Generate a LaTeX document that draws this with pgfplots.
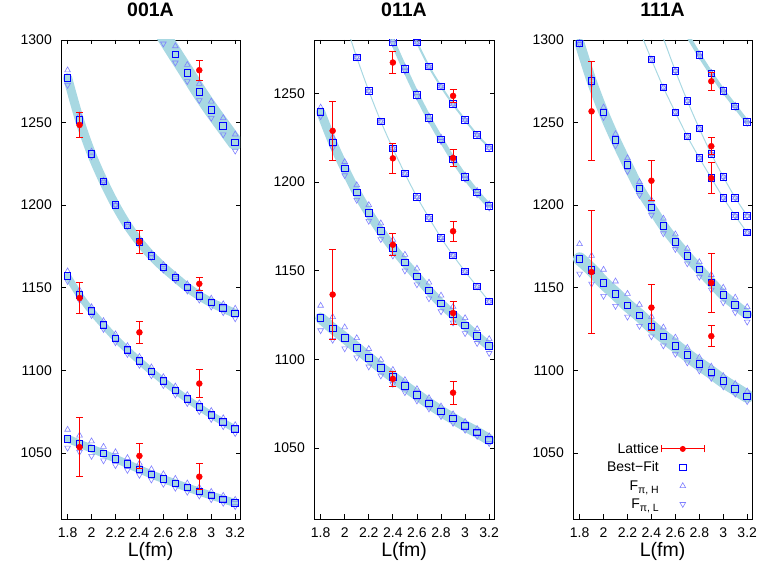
\documentclass[border=0pt]{standalone}
\usepackage{fontspec}
\setmainfont{Liberation Sans}
\usepackage{pgfplots}
\usepackage{pgfplotstable}
\pgfplotsset{compat=1.18}
\definecolor{bandc}{HTML}{A8D8E2}
\definecolor{tric}{HTML}{7F7FFF}
\definecolor{bfc}{HTML}{0000FF}
\definecolor{latc}{HTML}{FF0000}

% ---------- Panel 1 (001A) ----------
\pgfplotstableread{
x y h l
1.8 1058.6 1064.1 1053.1
1.9 1055.6 1060.6 1050.6
2.0 1052.6 1057.1 1048.1
2.1 1049.6 1053.8 1045.4
2.2 1046.5 1050.5 1042.5
2.3 1043.3 1047.0 1039.6
2.4 1040.1 1043.6 1036.6
2.5 1037.0 1040.2 1033.8
2.6 1034.2 1037.2 1031.2
2.7 1031.6 1034.4 1028.8
2.8 1029.0 1031.6 1026.4
2.9 1026.6 1029.1 1024.1
3.0 1024.2 1026.5 1021.9
3.1 1021.9 1024.1 1019.7
3.2 1019.7 1021.7 1017.7
}\tAa
\pgfplotstableread{
x y h l
1.8 1157.0 1160.0 1154.0
1.9 1145.5 1148.5 1142.5
2.0 1135.8 1138.3 1133.3
2.1 1127.4 1129.9 1124.9
2.2 1119.4 1121.9 1116.9
2.3 1112.3 1114.8 1109.8
2.4 1105.7 1108.2 1103.2
2.5 1099.4 1101.9 1096.9
2.6 1093.5 1096.0 1091.0
2.7 1087.8 1090.3 1085.3
2.8 1082.6 1085.1 1080.1
2.9 1077.7 1080.2 1075.2
3.0 1073.0 1075.5 1070.5
3.1 1068.6 1071.1 1066.1
3.2 1064.4 1066.9 1061.9
}\tAb
\pgfplotstableread{
x y h l
1.8 1277.2 1281.7 1272.7
1.9 1251.5 1254.5 1248.5
2.0 1231.0 1232.5 1229.5
2.1 1214.4 1214.9 1213.9
2.2 1200.0 1200.0 1200.0
2.3 1187.8 1188.3 1187.3
2.4 1177.8 1178.8 1176.8
2.5 1169.4 1170.4 1168.4
2.6 1162.4 1163.9 1160.9
2.7 1156.2 1157.7 1154.7
2.8 1150.2 1152.2 1148.2
2.9 1145.2 1147.7 1142.7
3.0 1141.0 1143.5 1138.5
3.1 1137.6 1140.1 1135.1
3.2 1134.4 1137.4 1131.4
}\tAc
\pgfplotstableread{
x y h l
2.5 1314.5 1319.5 1309.5
2.6 1302.8 1307.8 1297.8
2.7 1291.3 1296.3 1286.3
2.8 1280.0 1285.0 1275.0
2.9 1268.5 1273.5 1263.5
3.0 1257.8 1262.8 1252.8
3.1 1247.8 1252.8 1242.8
3.2 1237.9 1242.9 1232.9
}\tAd
\pgfplotstableread{
x y e
1.9 1053.5 18.0
2.4 1048.2 7.6
2.9 1035.6 7.8
1.9 1143.8 9.4
2.4 1123.0 6.6
2.9 1092.0 8.6
1.9 1248.6 7.6
2.4 1177.8 7.0
2.9 1152.4 3.8
2.9 1281.7 6.0
}\tAlat

% ---------- Panel 2 (011A) ----------
\pgfplotstableread{
x y h l
1.8 1123.3 1130.3 1116.3
1.9 1117.4 1123.9 1110.9
2.0 1112.1 1118.1 1106.1
2.1 1106.5 1112.0 1101.0
2.2 1100.9 1105.9 1095.9
2.3 1095.3 1099.8 1090.8
2.4 1090.1 1094.1 1086.1
2.5 1084.9 1088.4 1081.4
2.6 1080.0 1083.3 1076.7
2.7 1075.2 1078.2 1072.2
2.8 1070.7 1073.5 1067.9
2.9 1066.6 1069.1 1064.1
3.0 1062.5 1064.8 1060.2
3.1 1058.8 1060.8 1056.8
3.2 1054.7 1056.7 1052.7
}\tBa
\pgfplotstableread{
x y h l
1.8 1239.5 1242.0 1237.0
1.9 1222.2 1225.2 1219.2
2.0 1207.5 1211.3 1203.7
2.1 1194.0 1198.2 1189.8
2.2 1182.5 1187.0 1178.0
2.3 1172.2 1176.7 1167.7
2.4 1162.9 1167.4 1158.4
2.5 1154.5 1159.0 1150.0
2.6 1146.7 1151.2 1142.2
2.7 1138.8 1143.3 1134.3
2.8 1131.5 1136.0 1127.0
2.9 1125.2 1129.7 1120.7
3.0 1119.0 1123.3 1114.7
3.1 1113.1 1117.1 1109.1
3.2 1107.5 1111.5 1103.5
}\tBb
\pgfplotstableread{
x y h l
1.9 1313.0 1313.0 1313.0
2.0 1291.0 1291.0 1291.0
2.1 1270.2 1270.2 1270.2
2.2 1251.3 1251.3 1251.3
2.3 1234.1 1234.1 1234.1
2.4 1218.8 1218.8 1218.8
2.5 1204.7 1204.7 1204.7
2.6 1191.5 1191.5 1191.5
2.7 1179.8 1179.8 1179.8
2.8 1168.5 1168.5 1168.5
2.9 1158.6 1158.6 1158.6
3.0 1149.5 1149.5 1149.5
3.1 1141.0 1141.0 1141.0
3.2 1132.6 1132.6 1132.6
}\tBc
\pgfplotstableread{
x y h l
2.3 1296.0 1297.0 1295.0
2.4 1279.0 1280.0 1278.0
2.5 1263.6 1264.6 1262.6
2.6 1249.1 1250.1 1248.1
2.7 1235.9 1236.9 1234.9
2.8 1224.0 1225.0 1223.0
2.9 1212.7 1213.7 1211.7
3.0 1202.7 1203.7 1201.7
3.1 1194.0 1195.0 1193.0
3.2 1186.5 1187.5 1185.5
}\tBd
\pgfplotstableread{
x y h l
2.5 1293.0 1293.0 1293.0
2.6 1278.6 1278.6 1278.6
2.7 1265.0 1265.0 1265.0
2.8 1253.8 1253.8 1253.8
2.9 1243.8 1243.8 1243.8
3.0 1234.9 1234.9 1234.9
3.1 1226.5 1226.5 1226.5
3.2 1219.3 1219.3 1219.3
}\tBe
\pgfplotstableread{
x y e
1.9 1136.5 25.3
2.4 1089.0 4.2
2.9 1081.2 6.4
1.9 1228.8 16.5
2.4 1164.6 6.2
2.9 1126.1 6.7
2.4 1213.3 8.5
2.9 1172.2 5.7
2.4 1267.3 6.3
2.9 1213.5 4.7
2.9 1248.5 3.8
}\tBlat

% ---------- Panel 3 (111A) ----------
\pgfplotstableread{
x y h l
1.8 1167.5 1176.5 1158.5
1.9 1160.9 1169.4 1152.4
2.0 1153.0 1161.0 1145.0
2.1 1146.4 1153.9 1138.9
2.2 1139.4 1146.4 1132.4
2.3 1133.3 1139.8 1126.8
2.4 1126.5 1132.5 1120.5
2.5 1120.5 1126.0 1115.0
2.6 1114.9 1119.9 1109.9
2.7 1109.2 1113.7 1104.7
2.8 1103.8 1107.8 1099.8
2.9 1098.8 1102.3 1095.3
3.0 1093.4 1096.6 1090.2
3.1 1088.8 1091.8 1085.8
3.2 1084.3 1087.3 1081.3
}\tCa
\pgfplotstableread{
x y h l
1.8 1298.0 1298.5 1297.5
1.9 1275.3 1277.3 1273.3
2.0 1256.2 1259.2 1253.2
2.1 1239.6 1243.1 1236.1
2.2 1224.5 1228.5 1220.5
2.3 1210.1 1214.1 1206.1
2.4 1198.6 1203.1 1194.1
2.5 1187.4 1191.9 1182.9
2.6 1177.9 1182.4 1173.4
2.7 1169.2 1173.7 1164.7
2.8 1161.1 1165.6 1156.6
2.9 1153.3 1157.8 1148.8
3.0 1145.6 1150.1 1141.1
3.1 1139.6 1144.1 1135.1
3.2 1133.9 1138.4 1129.4
}\tCb
\pgfplotstableread{
x y h l
2.3 1306.0 1306.0 1306.0
2.4 1288.2 1288.2 1288.2
2.5 1271.2 1271.2 1271.2
2.6 1256.2 1256.2 1256.2
2.7 1241.6 1241.6 1241.6
2.8 1228.6 1228.6 1228.6
2.9 1216.4 1216.4 1216.4
3.0 1204.5 1204.5 1204.5
3.1 1193.5 1193.5 1193.5
3.2 1183.4 1183.4 1183.4
}\tCc
\pgfplotstableread{
x y h l
2.5 1301.0 1301.0 1301.0
2.6 1281.3 1281.3 1281.3
2.7 1263.1 1263.1 1263.1
2.8 1246.4 1246.4 1246.4
2.9 1231.0 1231.0 1231.0
3.0 1217.2 1217.2 1217.2
3.1 1204.5 1204.5 1204.5
3.2 1193.5 1193.5 1193.5
}\tCd
\pgfplotstableread{
x y h l
2.7 1303.0 1303.5 1302.5
2.8 1290.9 1291.4 1290.4
2.9 1279.7 1280.2 1279.2
3.0 1269.2 1269.7 1268.7
3.1 1259.8 1260.3 1259.3
3.2 1250.3 1250.8 1249.8
}\tCe
\pgfplotstableread{
x y e
1.9 1159.5 37.0
2.4 1138.0 13.7
2.9 1120.7 6.3
1.9 1256.8 30.0
2.4 1214.8 12.0
2.9 1153.0 17.7
2.9 1275.0 5.5
2.9 1235.7 5.0
2.9 1216.4 9.5
}\tClat

\pgfplotsset{
  panel/.style={
    scale only axis, height=479pt, xmin=1.745, xmax=3.24, ymin=1010,
    clip marker paths=true, tick align=inside,
    axis line style={line width=0.8pt}, major tick style={line width=0.8pt, black},
    major tick length=4.5pt,
    xtick={1.8,2,2.2,2.4,2.6,2.8,3,3.2},
    /pgf/number format/assume math mode=true,
    /pgf/number format/1000 sep={},
    xticklabel style={font=\fontsize{14}{16}\selectfont, inner sep=0pt, anchor=base, yshift=-19pt},
    yticklabel style={font=\fontsize{14}{16}\selectfont, inner sep=0pt, anchor=east, xshift=-9pt},
    title style={font=\fontsize{19.5}{22}\selectfont\bfseries, at={(axis description cs:0.5,1)}, anchor=base, yshift=17pt},
    xlabel={L(fm)},
    xlabel style={font=\fontsize{19.5}{22}\selectfont, at={(axis description cs:0.5,0)}, anchor=base, yshift=-38pt},
  },
  band/.style={no markers, smooth, color=bandc, line cap=round, line join=round, forget plot},
  fH/.style={only marks, mark=triangle, mark size=3.3pt, color=tric, mark options={line width=0.6pt}, forget plot},
  fL/.style={only marks, mark=triangle, mark size=3.3pt, color=tric, mark options={rotate=180, line width=0.6pt}, forget plot},
  bf/.style={only marks, mark=square, mark size=3.3pt, color=bfc, mark options={line width=0.9pt}, forget plot},
  lat/.style={only marks, mark=*, mark size=3pt, color=latc, forget plot,
    error bars/.cd, y dir=both, y explicit,
    error bar style={line width=0.9pt, latc},
    error mark options={rotate=90, mark size=3.5pt, line width=0.9pt, latc}},
}

\newcommand{\curve}[2]{%
  \addplot[band, line width=#2] table[x index=0, y index=1] {#1};
  \addplot[fL] table[x index=0, y index=3] {#1};
  \addplot[fH] table[x index=0, y index=2] {#1};
  \addplot[bf] table[x index=0, y index=1] {#1};
}
\newcommand{\sub}[1]{\raisebox{-0.4ex}{\fontsize{10.5}{12}\selectfont #1}}

\begin{document}
\begin{tikzpicture}
\useasboundingbox (0,0) rectangle (771pt,567pt);

\begin{axis}[panel, at={(61pt,48pt)}, anchor=south west, width=179pt, ymax=1300,
  ytick={1050,1100,1150,1200,1250,1300}, title={001A}]
\curve{\tAa}{8pt}
\curve{\tAb}{7pt}
\curve{\tAc}{9pt}
\curve{\tAd}{15pt}
\addplot[lat] table[x=x, y=y, y error=e] {\tAlat};
\end{axis}

\begin{axis}[panel, at={(314pt,48pt)}, anchor=south west, width=180pt, ymax=1280,
  ytick={1050,1100,1150,1200,1250}, title={011A}]
\curve{\tBa}{11pt}
\curve{\tBb}{9pt}
\curve{\tBc}{1pt}
\curve{\tBd}{5pt}
\curve{\tBe}{2pt}
\addplot[lat] table[x=x, y=y, y error=e] {\tBlat};
\end{axis}

\begin{axis}[panel, at={(573pt,48pt)}, anchor=south west, width=179pt, ymax=1300,
  ytick={1050,1100,1150,1200,1250,1300}, title={111A},
  legend cell align=right, legend plot pos=right,
  legend style={draw=none, fill=none, at={(axis description cs:0.737,0.163)}, anchor=north east,
    font=\fontsize{14}{16}\selectfont, row sep=3pt, inner sep=0pt}]
\curve{\tCa}{13pt}
\curve{\tCb}{10pt}
\curve{\tCc}{1pt}
\curve{\tCd}{1pt}
\curve{\tCe}{4pt}
\addplot[lat] table[x=x, y=y, y error=e] {\tClat};
\addlegendimage{legend image code/.code={\draw[draw=latc, line width=0.9pt] (0pt,0pt) -- (43pt,0pt) (0pt,-3.5pt) -- (0pt,3.5pt) (43pt,-3.5pt) -- (43pt,3.5pt); \fill[latc, draw=none] (21.5pt,0pt) circle (3pt);}}
\addlegendentry{Lattice}
\addlegendimage{legend image code/.code={\path[draw=none, fill=none] (0pt,0pt) -- (43pt,0pt); \path[draw=none, fill=none] plot[mark=square, mark size=3.3pt, mark options={draw=bfc, fill=none, line width=0.9pt}] coordinates {(21.5pt,0pt)};}}
\addlegendentry{Best−Fit}
\addlegendimage{legend image code/.code={\path[draw=none, fill=none] (0pt,0pt) -- (43pt,0pt); \path[draw=none, fill=none] plot[mark=triangle, mark size=3.3pt, mark options={draw=tric, fill=none, line width=0.6pt}] coordinates {(21.5pt,0pt)};}}
\addlegendentry{F\sub{π, H}}
\addlegendimage{legend image code/.code={\path[draw=none, fill=none] (0pt,0pt) -- (43pt,0pt); \path[draw=none, fill=none] plot[mark=triangle, mark size=3.3pt, mark options={draw=tric, fill=none, rotate=180, line width=0.6pt}] coordinates {(21.5pt,0pt)};}}
\addlegendentry{F\sub{π, L}}
\end{axis}
\end{tikzpicture}
\end{document}
